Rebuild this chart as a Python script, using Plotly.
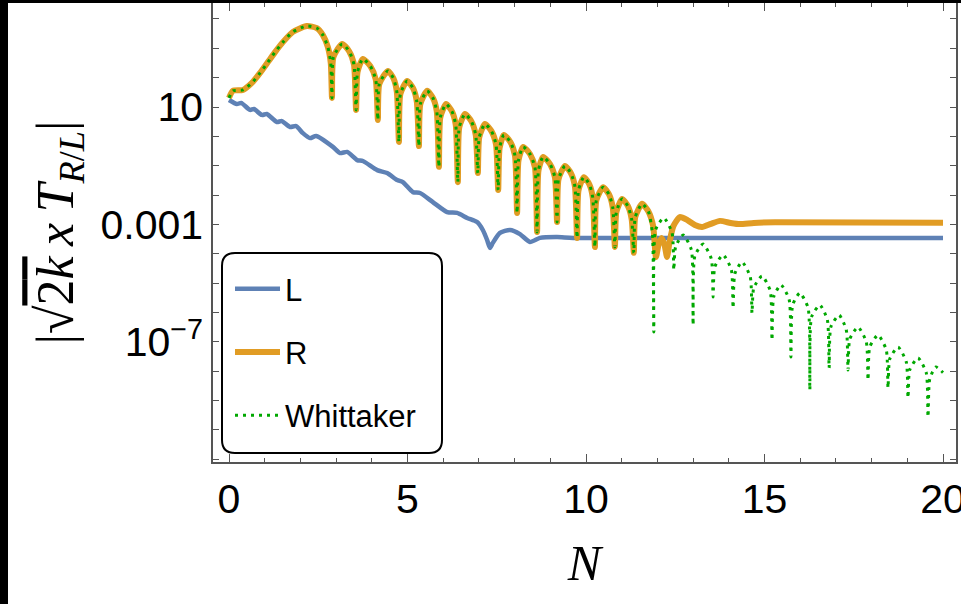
import plotly.graph_objects as go

# ---------------- data (values are log10 of |sqrt(2k) x T|) ----------------
L_N = [0, 0.22, 0.34, 0.59, 0.70, 0.92, 1.06, 1.34, 1.48, 1.71, 1.88, 2.07, 2.27, 2.44, 2.91, 3.11,
       3.31, 3.59, 3.75, 4.15, 4.43, 4.71, 4.87, 5.15, 5.35, 5.71, 6.11, 6.39, 6.67, 6.95, 7.11, 7.23,
       7.31, 7.39, 7.59, 7.87, 8.15, 8.43, 8.71, 9.19, 9.64, 20.0]
L_log = [1.24, 1.10, 1.14, 0.90, 0.93, 0.73, 0.76, 0.49, 0.52, 0.32, 0.35, 0.11, -0.06, 0.01, -0.36, -0.57,
         -0.53, -0.81, -0.84, -1.15, -1.25, -1.49, -1.56, -1.90, -1.93, -2.24, -2.58, -2.61, -2.78, -2.92, -3.19, -3.53,
         -3.80, -3.63, -3.29, -3.19, -3.33, -3.60, -3.46, -3.43, -3.46, -3.46]

R_N = [0, 0.11, 0.39, 0.64, 0.87, 1.09, 1.29, 1.51, 1.79, 2.18, 2.46, 2.63, 2.77, 2.85, 2.885,
       2.925, 3.17, 3.365, 3.50, 3.56,
       3.60, 3.75, 3.96, 4.11, 4.17,
       4.21, 4.45, 4.605, 4.70, 4.76,
       4.80, 4.99, 5.155, 5.26, 5.32,
       5.36, 5.55, 5.715, 5.82, 5.88,
       5.92, 6.08, 6.245, 6.35, 6.41,
       6.45, 6.61, 6.79, 6.91, 6.97,
       7.01, 7.17, 7.355, 7.48, 7.54,
       7.58, 7.70, 7.885, 8.01, 8.07,
       8.11, 8.24, 8.435, 8.57, 8.63,
       8.67, 8.80, 8.995, 9.13, 9.19,
       9.23, 9.41, 9.58, 9.69, 9.75,
       9.79, 9.94, 10.095, 10.19, 10.25,
       10.29, 10.48, 10.645, 10.75, 10.81,
       10.85, 11.01, 11.175, 11.28, 11.34,
       11.38, 11.57, 11.745, 11.88, 11.96,
       12.04, 12.12, 12.20, 12.27, 12.34, 12.45, 12.63, 12.85, 13.05, 13.25, 13.5, 13.75,
       14.05, 14.31, 14.7, 15.3, 20.0]
R_log = [1.31, 1.55, 1.58, 1.82, 2.16, 2.53, 2.87, 3.21, 3.56, 3.76, 3.69, 3.45, 3.04, 2.5, 1.31,
         2.70, 3.15, 2.90, 2.45, 0.90,
         2.19, 2.64, 2.39, 1.94, 0.56,
         1.78, 2.23, 1.98, 1.53, -0.19,
         1.44, 1.89, 1.64, 1.19, -0.33,
         1.10, 1.55, 1.30, 0.85, -1.04,
         0.65, 1.10, 0.85, 0.40, -1.56,
         0.31, 0.76, 0.51, 0.06, -1.25,
         -0.03, 0.42, 0.17, -0.28, -1.83,
         -0.40, 0.05, -0.20, -0.65, -2.61,
         -0.81, -0.36, -0.61, -1.06, -3.26,
         -1.15, -0.70, -0.95, -1.40, -2.92,
         -1.46, -1.01, -1.26, -1.71, -3.46,
         -1.84, -1.39, -1.64, -2.09, -3.77,
         -2.18, -1.73, -1.98, -2.43, -3.77,
         -2.58, -2.13, -2.38, -2.83, -3.97,
         -2.75, -2.30, -2.55, -3.05, -4.11,
         -3.65, -3.46, -3.7, -4.11, -3.6, -3.05, -2.75, -2.86, -3.02, -3.09, -2.98, -2.88,
         -2.95, -2.99, -2.95, -2.93, -2.94]

# Whittaker follows R up to N ~ 11.7, then its own tail
W_shared_upto = 11.745
W_tail_N = [11.86, 11.90, 11.95, 12.18, 12.41, 12.46, 12.51, 12.72, 12.95, 13.00,
            13.05, 13.28, 13.51, 13.56, 13.61, 13.84, 14.07, 14.12, 14.17, 14.37,
            14.60, 14.65, 14.70, 14.93, 15.16, 15.21, 15.26, 15.46, 15.69, 15.74,
            15.79, 15.99, 16.22, 16.27, 16.32, 16.55, 16.76, 16.81, 16.86, 17.09,
            17.29, 17.34, 17.39, 17.62, 17.85, 17.90, 17.95, 18.18, 18.41, 18.46,
            18.51, 18.74, 18.97, 19.02, 19.07, 19.30, 19.53, 19.58, 19.63, 19.80, 20.0]
W_tail_log = [-3.3, -6.67, -3.18, -2.78, -3.28, -4.55, -3.76, -3.36, -3.86, -6.43,
              -4.07, -3.67, -4.17, -5.47, -4.44, -4.04, -4.54, -5.85, -4.68, -4.28,
              -4.78, -6.02, -5.16, -4.76, -5.26, -6.94, -5.46, -5.06, -5.56, -7.52,
              -5.74, -5.34, -5.84, -8.64, -6.15, -5.75, -6.25, -7.89, -6.49, -6.09,
              -6.59, -7.96, -6.90, -6.50, -7.00, -8.30, -7.17, -6.77, -7.27, -8.57,
              -7.58, -7.18, -7.68, -8.91, -7.95, -7.55, -8.05, -9.56, -8.26, -7.86, -8.05]

series_names = ["L", "R", "Whittaker"]
x_tickvals = [0, 5, 10, 15, 20]
y_tick_exponents = list(range(-11, 5))
y_tick_labels = {1: "10", -3: "0.001", -7: "10<sup>\u22127</sup>"}

# ---------------- build ----------------
assert len(L_N) == len(L_log)
assert len(R_N) == len(R_log)
assert len(W_tail_N) == len(W_tail_log)

k = R_N.index(W_shared_upto)
W_N = R_N[:k + 1] + W_tail_N
W_log = R_log[:k + 1] + W_tail_log


def pw(v):
    return [10 ** x for x in v]


BLUE = "#5E81B5"
ORANGE = "#E19C24"
GREEN = "#00A800"
AXC = "#555555"

fig = go.Figure()
fig.add_trace(go.Scatter(x=L_N, y=pw(L_log), mode="lines", name=series_names[0], legendgroup="a",
                         line=dict(color=BLUE, width=4.5, shape="spline", smoothing=0.6)))
fig.add_trace(go.Scatter(x=R_N, y=pw(R_log), mode="lines", name=series_names[1], legendgroup="b",
                         line=dict(color=ORANGE, width=6, shape="spline", smoothing=0.6)))
fig.add_trace(go.Scatter(x=W_N, y=pw(W_log), mode="lines", name=series_names[2], legendgroup="c",
                         line=dict(color=GREEN, width=3, dash="3px,5px", shape="spline", smoothing=0.6)))

# plot area in px: x 213..956, y 3..462
PL, PR, PT, PB = 213, 956, 3, 462
W, H = 961, 604


def px(xp):
    return (xp - PL) / (PR - PL)


def py(yp):
    return (PB - yp) / (PB - PT)


# rounded legend frame
x0, x1, y0, y1 = px(222), px(442), py(453), py(253)
rx, ry = 13 / (PR - PL), 13 / (PB - PT)
path = (f"M {x0+rx},{y1} L {x1-rx},{y1} Q {x1},{y1} {x1},{y1-ry} L {x1},{y0+ry} "
        f"Q {x1},{y0} {x1-rx},{y0} L {x0+rx},{y0} Q {x0},{y0} {x0},{y0+ry} "
        f"L {x0},{y1-ry} Q {x0},{y1} {x0+rx},{y1} Z")
shapes = [
    dict(type="path", path=path, xref="paper", yref="paper", fillcolor="white",
         line=dict(color="black", width=2), layer="above"),
    # black strips at the image edges
    dict(type="rect", xref="paper", yref="paper", x0=px(0), x1=px(8), y0=py(W + 10), y1=py(0),
         fillcolor="black", line=dict(width=0), layer="above"),
    dict(type="rect", xref="paper", yref="paper", x0=px(0), x1=px(W), y0=py(3), y1=py(0),
         fillcolor="black", line=dict(width=0), layer="above"),
]

fig.update_layout(
    width=W, height=H,
    margin=dict(l=PL, r=W - PR, t=PT, b=H - PB, autoexpand=False),
    paper_bgcolor="white", plot_bgcolor="white",
    shapes=shapes,
    showlegend=True,
    legend=dict(x=px(230), y=py(262), xanchor="left", yanchor="top",
                bgcolor="rgba(0,0,0,0)", borderwidth=0,
                font=dict(family="Liberation Sans, Arial", size=31, color="black"),
                tracegroupgap=20, itemwidth=45, traceorder="grouped"),
    xaxis=dict(range=[(PL - 229) / 35.7, (PR - 229) / 35.7], showline=True, linecolor=AXC, linewidth=1.5,
               mirror="ticks", ticks="inside", ticklen=8, tickwidth=1.2, tickcolor=AXC,
               tickmode="array", tickvals=x_tickvals, ticklabeloverflow="allow",
               tickfont=dict(family="Liberation Sans, Arial", size=41, color="black"),
               showgrid=False, zeroline=False,
               minor=dict(tick0=0, dtick=1, ticks="inside", ticklen=4, tickwidth=1, tickcolor=AXC, showgrid=False),
               title=dict(text="<i>N</i>", font=dict(family="Liberation Serif, Times New Roman", size=50, color="black"),
                          standoff=24)),
    yaxis=dict(type="log", range=[1 - (PB - 107) / 29.35, 1 + (107 - PT) / 29.35],
               showline=True, linecolor=AXC, linewidth=1.5, mirror="ticks",
               ticks="inside", ticklen=6, tickwidth=1.2, tickcolor=AXC,
               tickmode="array", tickvals=[10 ** e for e in y_tick_exponents],
               ticktext=[y_tick_labels.get(e, "") for e in y_tick_exponents],
               tickfont=dict(family="Liberation Sans, Arial", size=41, color="black"),
               showgrid=False, zeroline=False,
               title=dict(text="|\u221a<span style='text-decoration:overline'>2<i>k</i></span>\u2009<i>x</i>\u2009<i>T</i><sub><i>R</i>/<i>L</i></sub>|",
                          font=dict(family="Liberation Serif, Times New Roman", size=52, color="black"),
                          standoff=10)),
)

fig.write_html("out.html")
